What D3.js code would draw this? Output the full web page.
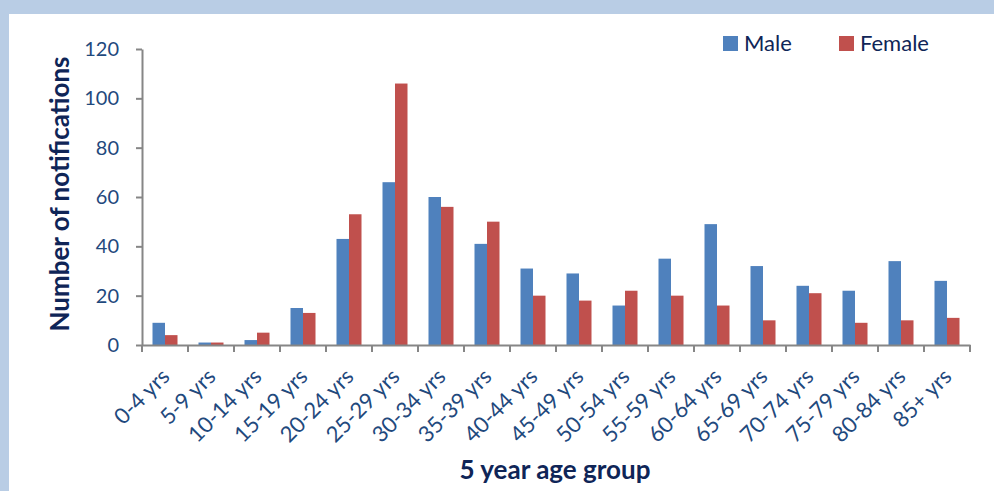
<!DOCTYPE html>
<html><head><meta charset="utf-8">
<script src="https://cdn.jsdelivr.net/npm/d3@7"></script>
<style>
html,body{margin:0;padding:0;background:#b9cde5;}
svg{display:block;}
</style></head>
<body>
<svg id="chart" width="994" height="491"></svg>
<script>
const categories = ["0-4 yrs","5-9 yrs","10-14 yrs","15-19 yrs","20-24 yrs","25-29 yrs","30-34 yrs","35-39 yrs","40-44 yrs","45-49 yrs","50-54 yrs","55-59 yrs","60-64 yrs","65-69 yrs","70-74 yrs","75-79 yrs","80-84 yrs","85+ yrs"];
const male   = [9,1,2,15,43,66,60,41,31,29,16,35,49,32,24,22,34,26];
const female = [4,1,5,13,53,106,56,50,20,18,22,20,16,10,21,9,10,11];
const seriesNames = ["Male","Female"];
const seriesColors = ["#4f81bd","#c0504d"];
const yTicks = [0,20,40,60,80,100,120];

(function(){
const svg = d3.select("#chart");
svg.append("rect").attr("x",0).attr("y",0).attr("width",994).attr("height",491).attr("fill","#b9cde5");
svg.append("rect").attr("x",9).attr("y",14).attr("width",985).attr("height",477).attr("fill","#ffffff");

const pLeft=142, pRight=970, pTop=49, pBottom=345;
const x = d3.scaleBand().domain(categories).range([pLeft,pRight]).paddingInner(0).paddingOuter(0);
const xs = d3.scaleBand().domain(seriesNames).range([0,x.bandwidth()]).paddingInner(0).paddingOuter(0.84);
const y = d3.scaleLinear().domain([0,120]).range([pBottom,pTop]);

const tickColor="#1f497d", titleColor="#0f2557", axisColor="#868686";
const font="Lato, 'Open Sans', sans-serif";

const data = categories.map((c,i)=>({cat:c, vals:[male[i],female[i]]}));
const g = svg.append("g");
seriesNames.forEach((s,si)=>{
  g.selectAll(".b"+si).data(data).enter().append("rect")
    .attr("x",d=>x(d.cat)+xs(s))
    .attr("y",d=>y(d.vals[si]))
    .attr("width",xs.bandwidth())
    .attr("height",d=>y(0)-y(d.vals[si]))
    .attr("fill",seriesColors[si]);
});

const yAxis = d3.axisLeft(y).tickValues(yTicks).tickSize(6).tickSizeOuter(0).tickPadding(17);
const ya = svg.append("g").attr("transform",`translate(${pLeft},0)`).call(yAxis);
ya.select(".domain").attr("stroke",axisColor).attr("stroke-width",2);
ya.selectAll(".tick line").attr("stroke",axisColor).attr("stroke-width",2);
ya.selectAll(".tick text").attr("fill",tickColor).style("font-family",font).style("font-size","20px");

const xAxis = d3.axisBottom(x).tickSize(0).tickSizeOuter(0).tickFormat(()=> "");
const xa = svg.append("g").attr("transform",`translate(0,${pBottom})`).call(xAxis);
xa.select(".domain").attr("stroke",axisColor).attr("stroke-width",2);
const bounds = categories.map(c=>x(c)).concat([pRight]);
xa.selectAll(".btick").data(bounds).enter().append("line")
  .attr("x1",d=>d).attr("x2",d=>d).attr("y1",0).attr("y2",7)
  .attr("stroke",axisColor).attr("stroke-width",2);
xa.selectAll(".xl").data(categories).enter().append("text")
  .attr("transform",d=>`translate(${x(d)+x.bandwidth()/2+6},${33}) rotate(-45)`)
  .attr("text-anchor","end")
  .attr("fill",tickColor).style("font-family",font).style("font-size","22px")
  .text(d=>d);

svg.append("text").attr("transform",`translate(69,${(pTop+pBottom)/2-3}) rotate(-90)`)
  .attr("text-anchor","middle").attr("fill",titleColor)
  .style("font-family",font).style("font-size","26px").style("font-weight","bold")
  .text("Number of notifications");
svg.append("text").attr("x",555).attr("y",479)
  .attr("text-anchor","middle").attr("fill",titleColor)
  .style("font-family",font).style("font-size","26px").style("font-weight","bold")
  .text("5 year age group");

const legX=[723,839];
seriesNames.forEach((s,i)=>{
  svg.append("rect").attr("x",legX[i]).attr("y",36).attr("width",15).attr("height",15).attr("fill",seriesColors[i]);
  svg.append("text").attr("x",legX[i]+21).attr("y",51).attr("fill",titleColor)
    .style("font-family",font).style("font-size","22px").text(s);
});
})();
</script>
</body></html>
